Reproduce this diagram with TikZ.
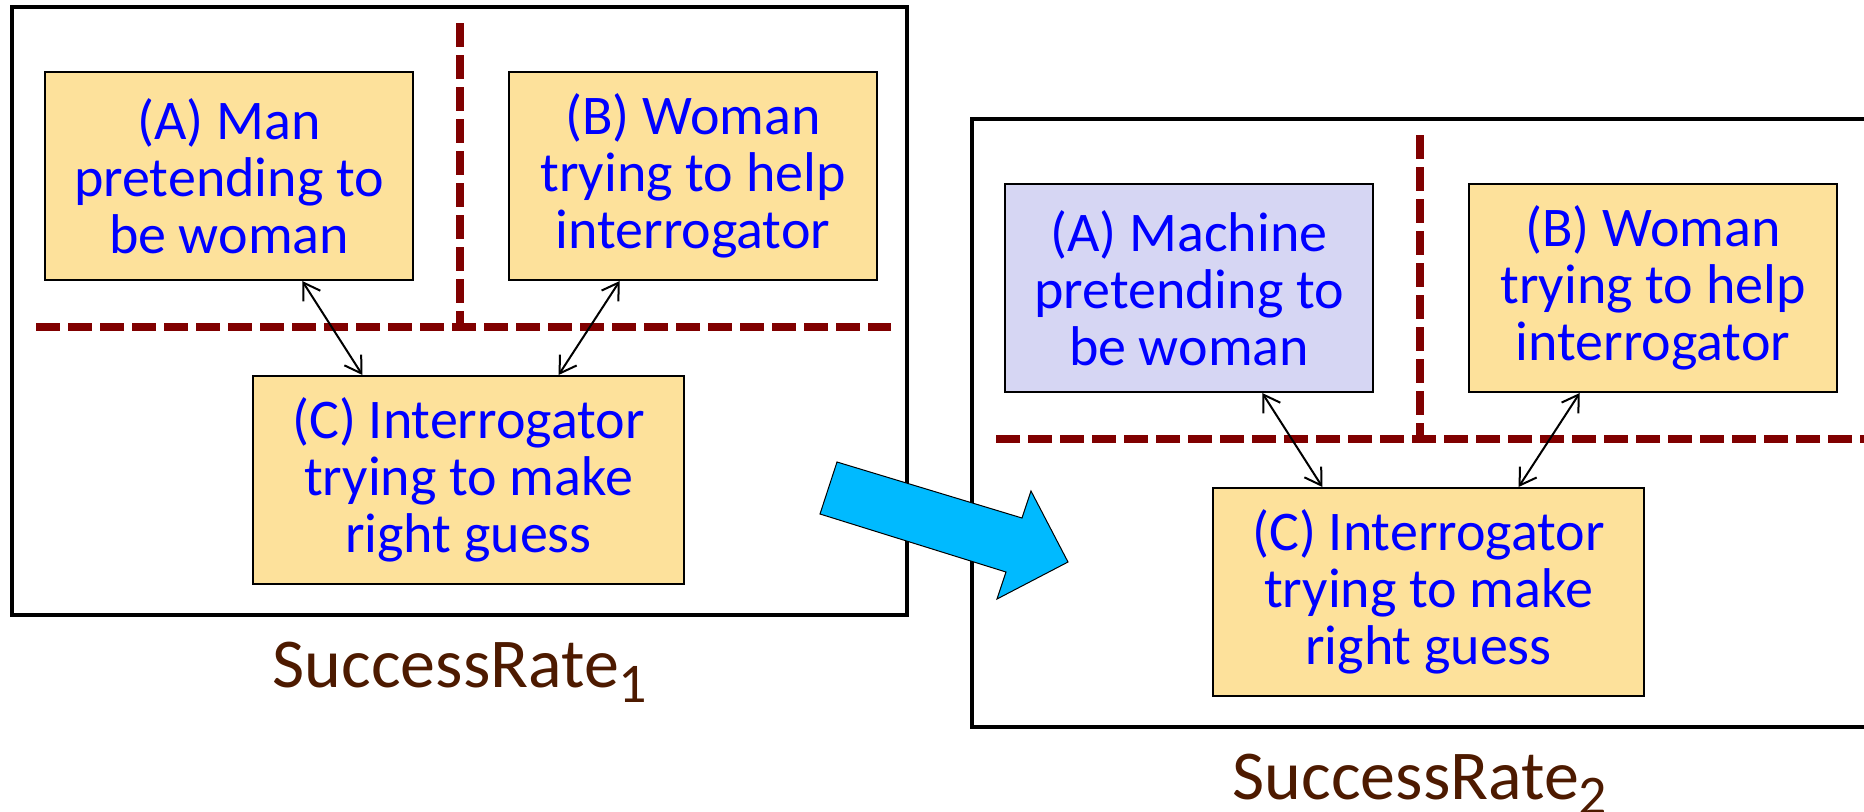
\documentclass[tikz,border=0pt]{standalone}
\usepackage{fontspec}
\setmainfont{Carlito}
\usetikzlibrary{arrows.meta,calc}

\definecolor{boxyellow}{RGB}{253,225,155}
\definecolor{boxlilac}{RGB}{214,214,243}
\definecolor{txtblue}{RGB}{0,0,255}
\definecolor{divred}{RGB}{128,0,0}
\definecolor{labelbrown}{RGB}{77,26,0}
\definecolor{arrowcyan}{RGB}{0,186,255}

\tikzset{
  frame/.style={draw=black, line width=1.6pt},
  roombox/.style={draw=black, line width=1pt, inner sep=0pt, anchor=north west,
    minimum height=104pt, align=center, text=txtblue,
    font=\fontsize{28}{28.5}\selectfont},
  sidebox/.style={roombox, minimum width=184pt},
  judgebox/.style={roombox, minimum width=215.5pt, fill=boxyellow},
  divider/.style={draw=divred, line width=4pt, dash pattern=on 12pt off 4pt},
  link/.style={draw=black, line width=1pt,
    {Straight Barb[length=8pt,width=10pt]}-{Straight Barb[length=8pt,width=10pt]}},
  ratelabel/.style={anchor=base, text=labelbrown, inner sep=0pt,
    font=\fontsize{35}{35}\selectfont},
  bigarrow/.style={fill=arrowcyan, draw=black, line width=0.5pt, line join=miter},
}

% One imitation-game panel:
% #1,#2 offset, #3 name prefix, #4 fill of player A, #5 text of player A,
% #6 subscript of the label, #7 right end of the horizontal divider
\newcommand\gamepanel[7]{%
\begin{scope}[shift={(#1,#2)}]
  \draw[frame] (12,7) rectangle (907,615);
  \draw[divider] (460,23) -- (460,331);
  \draw[divider] (36,327) -- (#7,327);
  \node[sidebox, fill=#4] (#3A) at (44,71) {#5};
  \node[sidebox, fill=boxyellow] (#3B) at (508,71) {(B) Woman\\trying to help\\interrogator};
  \node[judgebox] (#3C) at (252,375) {(C) Interrogator\\trying to make\\right guess};
  \draw[link] ($(#3A.south west)!0.698!(#3A.south east)$) -- ($(#3C.north west)!0.255!(#3C.north east)$);
  \draw[link] ($(#3B.south west)!0.302!(#3B.south east)$) -- ($(#3C.north west)!0.708!(#3C.north east)$);
  \node[ratelabel] (#3L) at (460,687) {SuccessRate\raisebox{-7.5pt}{\fontsize{28}{28}\selectfont #6}};
\end{scope}}

\begin{document}
\begin{tikzpicture}[x=0.5pt, y=-0.5pt]
  \useasboundingbox (0,0) rectangle (1864,811);
  \begin{scope}
    \clip (0,0) rectangle (1864,811);
    \gamepanel{0}{0}{p}{boxyellow}{(A) Man\\pretending to\\be woman}{1}{891}
    \gamepanel{960}{112}{q}{boxlilac}{(A) Machine\\pretending to\\be woman}{2}{904}
    % the transition arrow from the first game to the second
    \draw[bigarrow] (837,462) -- (1022,518) -- (1031,491) -- (1068,562)
      -- (997,599) -- (1006,572) -- (820,514) -- cycle;
  \end{scope}
\end{tikzpicture}
\end{document}
